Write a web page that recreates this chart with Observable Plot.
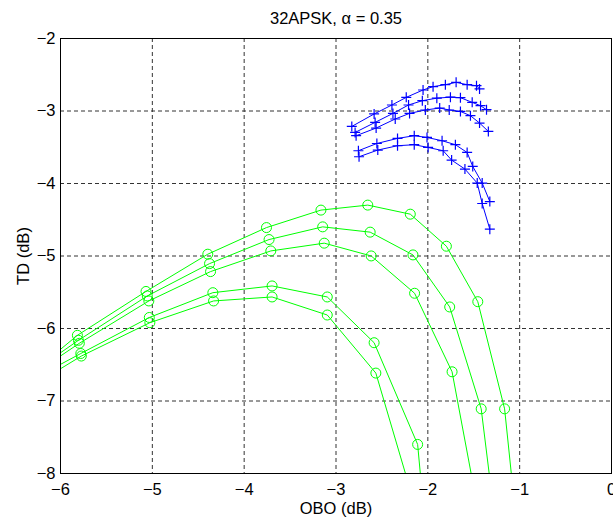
<!DOCTYPE html>
<html>
<head>
<meta charset="utf-8">
<script src="https://cdn.jsdelivr.net/npm/d3@7"></script>
<script src="https://cdn.jsdelivr.net/npm/@observablehq/plot@0.6"></script>
<style>
  html, body { margin: 0; padding: 0; background: #fff; }
  svg { display: block; }
</style>
</head>
<body>
<div id="chart"></div>
<script>
// Chart text
const title = "32APSK, α = 0.35";
const xLabel = "OBO (dB)";
const yLabel = "TD (dB)";
const xTicks = [-6, -5, -4, -3, -2, -1, 0];
const yTicks = [-8, -7, -6, -5, -4, -3, -2];

// Green series (circles): OBO (dB) and TD (dB)
const gObo1 = [-6.5, -5.816, -5.069, -4.396, -3.757, -3.164, -2.654, -2.191, -1.798, -1.456, -1.164, -1.009];
const gTd1  = [-6.813, -6.094, -5.489, -4.975, -4.608, -4.367, -4.298, -4.423, -4.865, -5.630, -7.108, -9.004];
const gObo2 = [-6.5, -5.805, -5.055, -4.377, -3.729, -3.145, -2.628, -2.162, -1.762, -1.419, -1.234];
const gTd2  = [-6.775, -6.163, -5.551, -5.105, -4.773, -4.598, -4.671, -4.985, -5.703, -7.108, -9.004];
const gObo3 = [-6.5, -5.795, -5.038, -4.366, -3.710, -3.128, -2.617, -2.144, -1.736, -1.380];
const gTd3  = [-6.807, -6.204, -5.620, -5.215, -4.930, -4.823, -4.999, -5.514, -6.597, -9.004];
const gObo4 = [-6.5, -5.779, -5.033, -4.341, -3.696, -3.095, -2.585, -2.111, -2.009];
const gTd4  = [-6.833, -6.345, -5.848, -5.506, -5.413, -5.565, -6.196, -7.599, -9.004];
const gObo5 = [-6.5, -5.773, -5.027, -4.333, -3.696, -3.095, -2.566, -2.010];
const gTd5  = [-6.941, -6.380, -5.920, -5.620, -5.565, -5.814, -6.615, -9.004];

// Blue series (plus markers)
const bObo1 = [-2.828, -2.585, -2.391, -2.235, -2.052, -1.943, -1.809, -1.692, -1.572, -1.470, -1.437];
const bTd1  = [-3.213, -3.041, -2.917, -2.812, -2.710, -2.664, -2.637, -2.605, -2.637, -2.651, -2.696];
const bObo2 = [-2.792, -2.574, -2.380, -2.210, -2.060, -1.902, -1.754, -1.645, -1.517, -1.426, -1.361];
const bTd2  = [-3.296, -3.157, -3.033, -2.917, -2.858, -2.823, -2.809, -2.816, -2.881, -2.927, -2.982];
const bObo3 = [-2.781, -2.563, -2.355, -2.199, -2.027, -1.871, -1.767, -1.645, -1.536, -1.437, -1.341];
const bTd3  = [-3.341, -3.235, -3.110, -3.033, -2.986, -2.959, -2.986, -3.006, -3.065, -3.166, -3.282];
const bObo4 = [-2.756, -2.555, -2.330, -2.148, -2.009, -1.845, -1.700, -1.572, -1.511, -1.408, -1.325];
const bTd4  = [-3.548, -3.448, -3.378, -3.341, -3.365, -3.410, -3.465, -3.572, -3.765, -3.994, -4.249];
const bObo5 = [-2.749, -2.545, -2.330, -2.148, -1.997, -1.833, -1.741, -1.596, -1.462, -1.408, -1.325];
const bTd5  = [-3.631, -3.539, -3.479, -3.465, -3.503, -3.548, -3.677, -3.801, -3.994, -4.276, -4.630];

const toRows = (name, xs, ys) => xs.map((x, i) => ({series: name, obo: x, td: ys[i]}));
const green = [
  ...toRows("g1", gObo1, gTd1), ...toRows("g2", gObo2, gTd2), ...toRows("g3", gObo3, gTd3),
  ...toRows("g4", gObo4, gTd4), ...toRows("g5", gObo5, gTd5)
];
const blue = [
  ...toRows("b1", bObo1, bTd1), ...toRows("b2", bObo2, bTd2), ...toRows("b3", bObo3, bTd3),
  ...toRows("b4", bObo4, bTd4), ...toRows("b5", bObo5, bTd5)
];

const plusSymbol = {
  draw(ctx, size) {
    const r = Math.sqrt(size / Math.PI);
    ctx.moveTo(-r, 0); ctx.lineTo(r, 0);
    ctx.moveTo(0, -r); ctx.lineTo(0, r);
  }
};
const fmt = d => d === 0 ? "0" : (d < 0 ? "\u2212" : "") + Math.abs(d);
const GREEN = "#00ff00", BLUE = "#0000ff";
const FS = 16.5;

const chart = Plot.plot({
  width: 613,
  height: 518,
  marginLeft: 60,
  marginRight: 2,
  marginTop: 38,
  marginBottom: 45,
  style: {fontFamily: "'Liberation Sans', Arial, Helvetica, sans-serif", background: "#fff", color: "#000"},
  x: {domain: [-6, 0], axis: null},
  y: {domain: [-8, -2], axis: null},
  marks: [
    Plot.ruleX(xTicks, {stroke: "#333", strokeWidth: 1, strokeDasharray: "4,3"}),
    Plot.ruleY(yTicks, {stroke: "#333", strokeWidth: 1, strokeDasharray: "4,3"}),
    Plot.line(green, {x: "obo", y: "td", z: "series", stroke: GREEN, strokeWidth: 1, clip: true}),
    Plot.dot(green, {x: "obo", y: "td", stroke: GREEN, strokeWidth: 1, r: 5, fill: "none", clip: true}),
    Plot.line(blue, {x: "obo", y: "td", z: "series", stroke: BLUE, strokeWidth: 1, clip: true}),
    Plot.dot(blue, {x: "obo", y: "td", stroke: BLUE, strokeWidth: 1.2, r: 5, symbol: plusSymbol, clip: true}),
    Plot.frame({stroke: "#000", strokeWidth: 1}),
    // tick labels
    Plot.text(xTicks, {x: d => d, text: fmt, frameAnchor: "bottom", lineAnchor: "middle", textAnchor: "middle", dy: 16, fontSize: FS, fill: "#000"}),
    Plot.text(yTicks, {y: d => d, text: fmt, frameAnchor: "left", lineAnchor: "middle", textAnchor: "end", dx: -5, fontSize: FS, fill: "#000"}),
    // titles
    Plot.text([title], {text: d => d, frameAnchor: "top", lineAnchor: "middle", textAnchor: "middle", dy: -20, fontSize: FS, fill: "#000"}),
    Plot.text([xLabel], {text: d => d, frameAnchor: "bottom", lineAnchor: "middle", textAnchor: "middle", dy: 35, fontSize: FS, fill: "#000"}),
    Plot.text([yLabel], {text: d => d, frameAnchor: "left", lineAnchor: "middle", textAnchor: "middle", dx: -37, rotate: -90, fontSize: FS, fill: "#000"})
  ]
});
document.getElementById("chart").appendChild(chart);
</script>
</body>
</html>
